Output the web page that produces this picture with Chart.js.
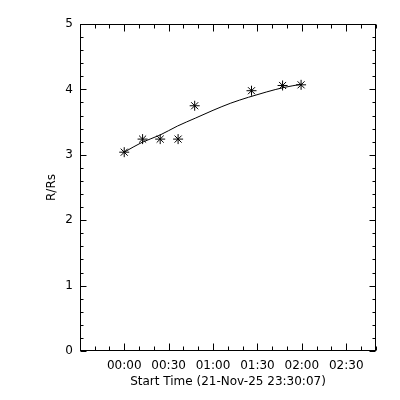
<!DOCTYPE html>
<html>
<head>
<meta charset="utf-8">
<script src="https://cdn.jsdelivr.net/npm/chart.js@4/dist/chart.umd.min.js"></script>
<style>
html,body{margin:0;padding:0;background:#fff;}
canvas{display:block;}
</style>
</head>
<body>
<canvas id="c" width="400" height="400"></canvas>
<script>
// Minutes relative to 00:00 (start time 21-Nov-25 23:30:07)
const pointMinutes = [0, 12.4, 24.3, 36.4, 47.6, 86, 107, 119.5];
const pointValues  = [3.04, 3.24, 3.24, 3.24, 3.75, 3.98, 4.06, 4.07];
// Fitted curve
const fitMinutes = [0, 12, 24, 36, 48, 60, 72, 84, 96, 108, 120];
const fitValues  = [3.04, 3.19, 3.30, 3.44, 3.56, 3.68, 3.79, 3.88, 3.96, 4.03, 4.08];
// Axis ticks
const xTickMinutes = [0, 30, 60, 90, 120, 150];
const xTickLabels  = ['00:00', '00:30', '01:00', '01:30', '02:00', '02:30'];
const yTickValues  = [0, 1, 2, 3, 4, 5];
const yTickLabels  = ['0', '1', '2', '3', '4', '5'];
const xMin = -29.883, xMax = 170.117;
const xTitle = 'Start Time (21-Nov-25 23:30:07)';
const yTitle = 'R/Rs';

const FONT = {family: 'DejaVu Sans', size: 12};

const framePlugin = {
  id: 'frame',
  afterDraw(chart) {
    const ctx = chart.ctx;
    const a = chart.chartArea;
    const xs = chart.scales.x, ys = chart.scales.y;
    const L = Math.round(a.left) + 0.5, R = Math.round(a.right) - 0.5;
    const T = Math.round(a.top) + 0.5, B = Math.round(a.bottom) - 0.5;
    ctx.save();
    ctx.strokeStyle = '#000';
    ctx.lineWidth = 1;
    ctx.strokeRect(L, T, R - L, B - T);
    ctx.beginPath();
    // x ticks: major every 30 min, minor every 10 min
    const xStart = Math.ceil(xMin / 10) * 10;
    for (let m = xStart; m <= xMax; m += 10) {
      const px = Math.round(xs.getPixelForValue(m)) + 0.5;
      const major = xTickMinutes.includes(m);
      const len = major ? 7 : 4;
      ctx.moveTo(px, B); ctx.lineTo(px, B - len);
      ctx.moveTo(px, T); ctx.lineTo(px, T + len);
    }
    // y ticks: major every 1, minor every 0.2
    for (let i = 0; i <= 25; i++) {
      const v = i / 5;
      const py = Math.round(ys.getPixelForValue(v)) + 0.5;
      const major = i % 5 === 0;
      const len = major ? 6 : 3;
      ctx.moveTo(L, py); ctx.lineTo(L + len, py);
      ctx.moveTo(R, py); ctx.lineTo(R - len, py);
    }
    ctx.stroke();
    ctx.restore();
  }
};

new Chart(document.getElementById('c'), {
  type: 'scatter',
  data: {
    datasets: [
      {
        label: 'fit',
        data: fitMinutes.map((m, i) => ({x: m, y: fitValues[i]})),
        showLine: true,
        borderColor: '#000',
        borderWidth: 1,
        pointRadius: 0,
        tension: 0.4,
        cubicInterpolationMode: 'monotone'
      },
      {
        label: 'points',
        data: pointMinutes.map((m, i) => ({x: m, y: pointValues[i]})),
        showLine: false,
        pointStyle: 'star',
        pointRadius: 5,
        borderColor: '#000',
        backgroundColor: '#000',
        borderWidth: 1
      }
    ]
  },
  options: {
    responsive: false,
    animation: false,
    layout: {padding: {top: 24, right: 24, left: 0, bottom: 0}},
    plugins: {legend: {display: false}, tooltip: {enabled: false}},
    scales: {
      x: {
        type: 'linear',
        min: xMin, max: xMax,
        afterBuildTicks: s => { s.ticks = xTickMinutes.map(v => ({value: v})); },
        afterFit: s => { s.height = 49; },
        grid: {display: false, drawTicks: false},
        border: {display: false},
        ticks: {
          color: '#000', font: FONT, padding: 8, autoSkip: false, maxRotation: 0,
          callback: (v) => { const i = xTickMinutes.indexOf(v); return i >= 0 ? xTickLabels[i] : ''; }
        },
        title: {display: true, text: xTitle, color: '#000', font: FONT, padding: {top: 0, bottom: 11}}
      },
      y: {
        type: 'linear',
        min: 0, max: 5,
        afterBuildTicks: s => { s.ticks = yTickValues.map(v => ({value: v})); },
        afterFit: s => { s.width = 80; },
        grid: {display: false, drawTicks: false},
        border: {display: false},
        ticks: {
          color: '#000', font: FONT, padding: 7,
          callback: (v) => { const i = yTickValues.indexOf(v); return i >= 0 ? yTickLabels[i] : ''; }
        },
        title: {display: true, text: yTitle, color: '#000', font: FONT, padding: {top: 45, bottom: 0}}
      }
    }
  },
  plugins: [framePlugin]
});
</script>
</body>
</html>
